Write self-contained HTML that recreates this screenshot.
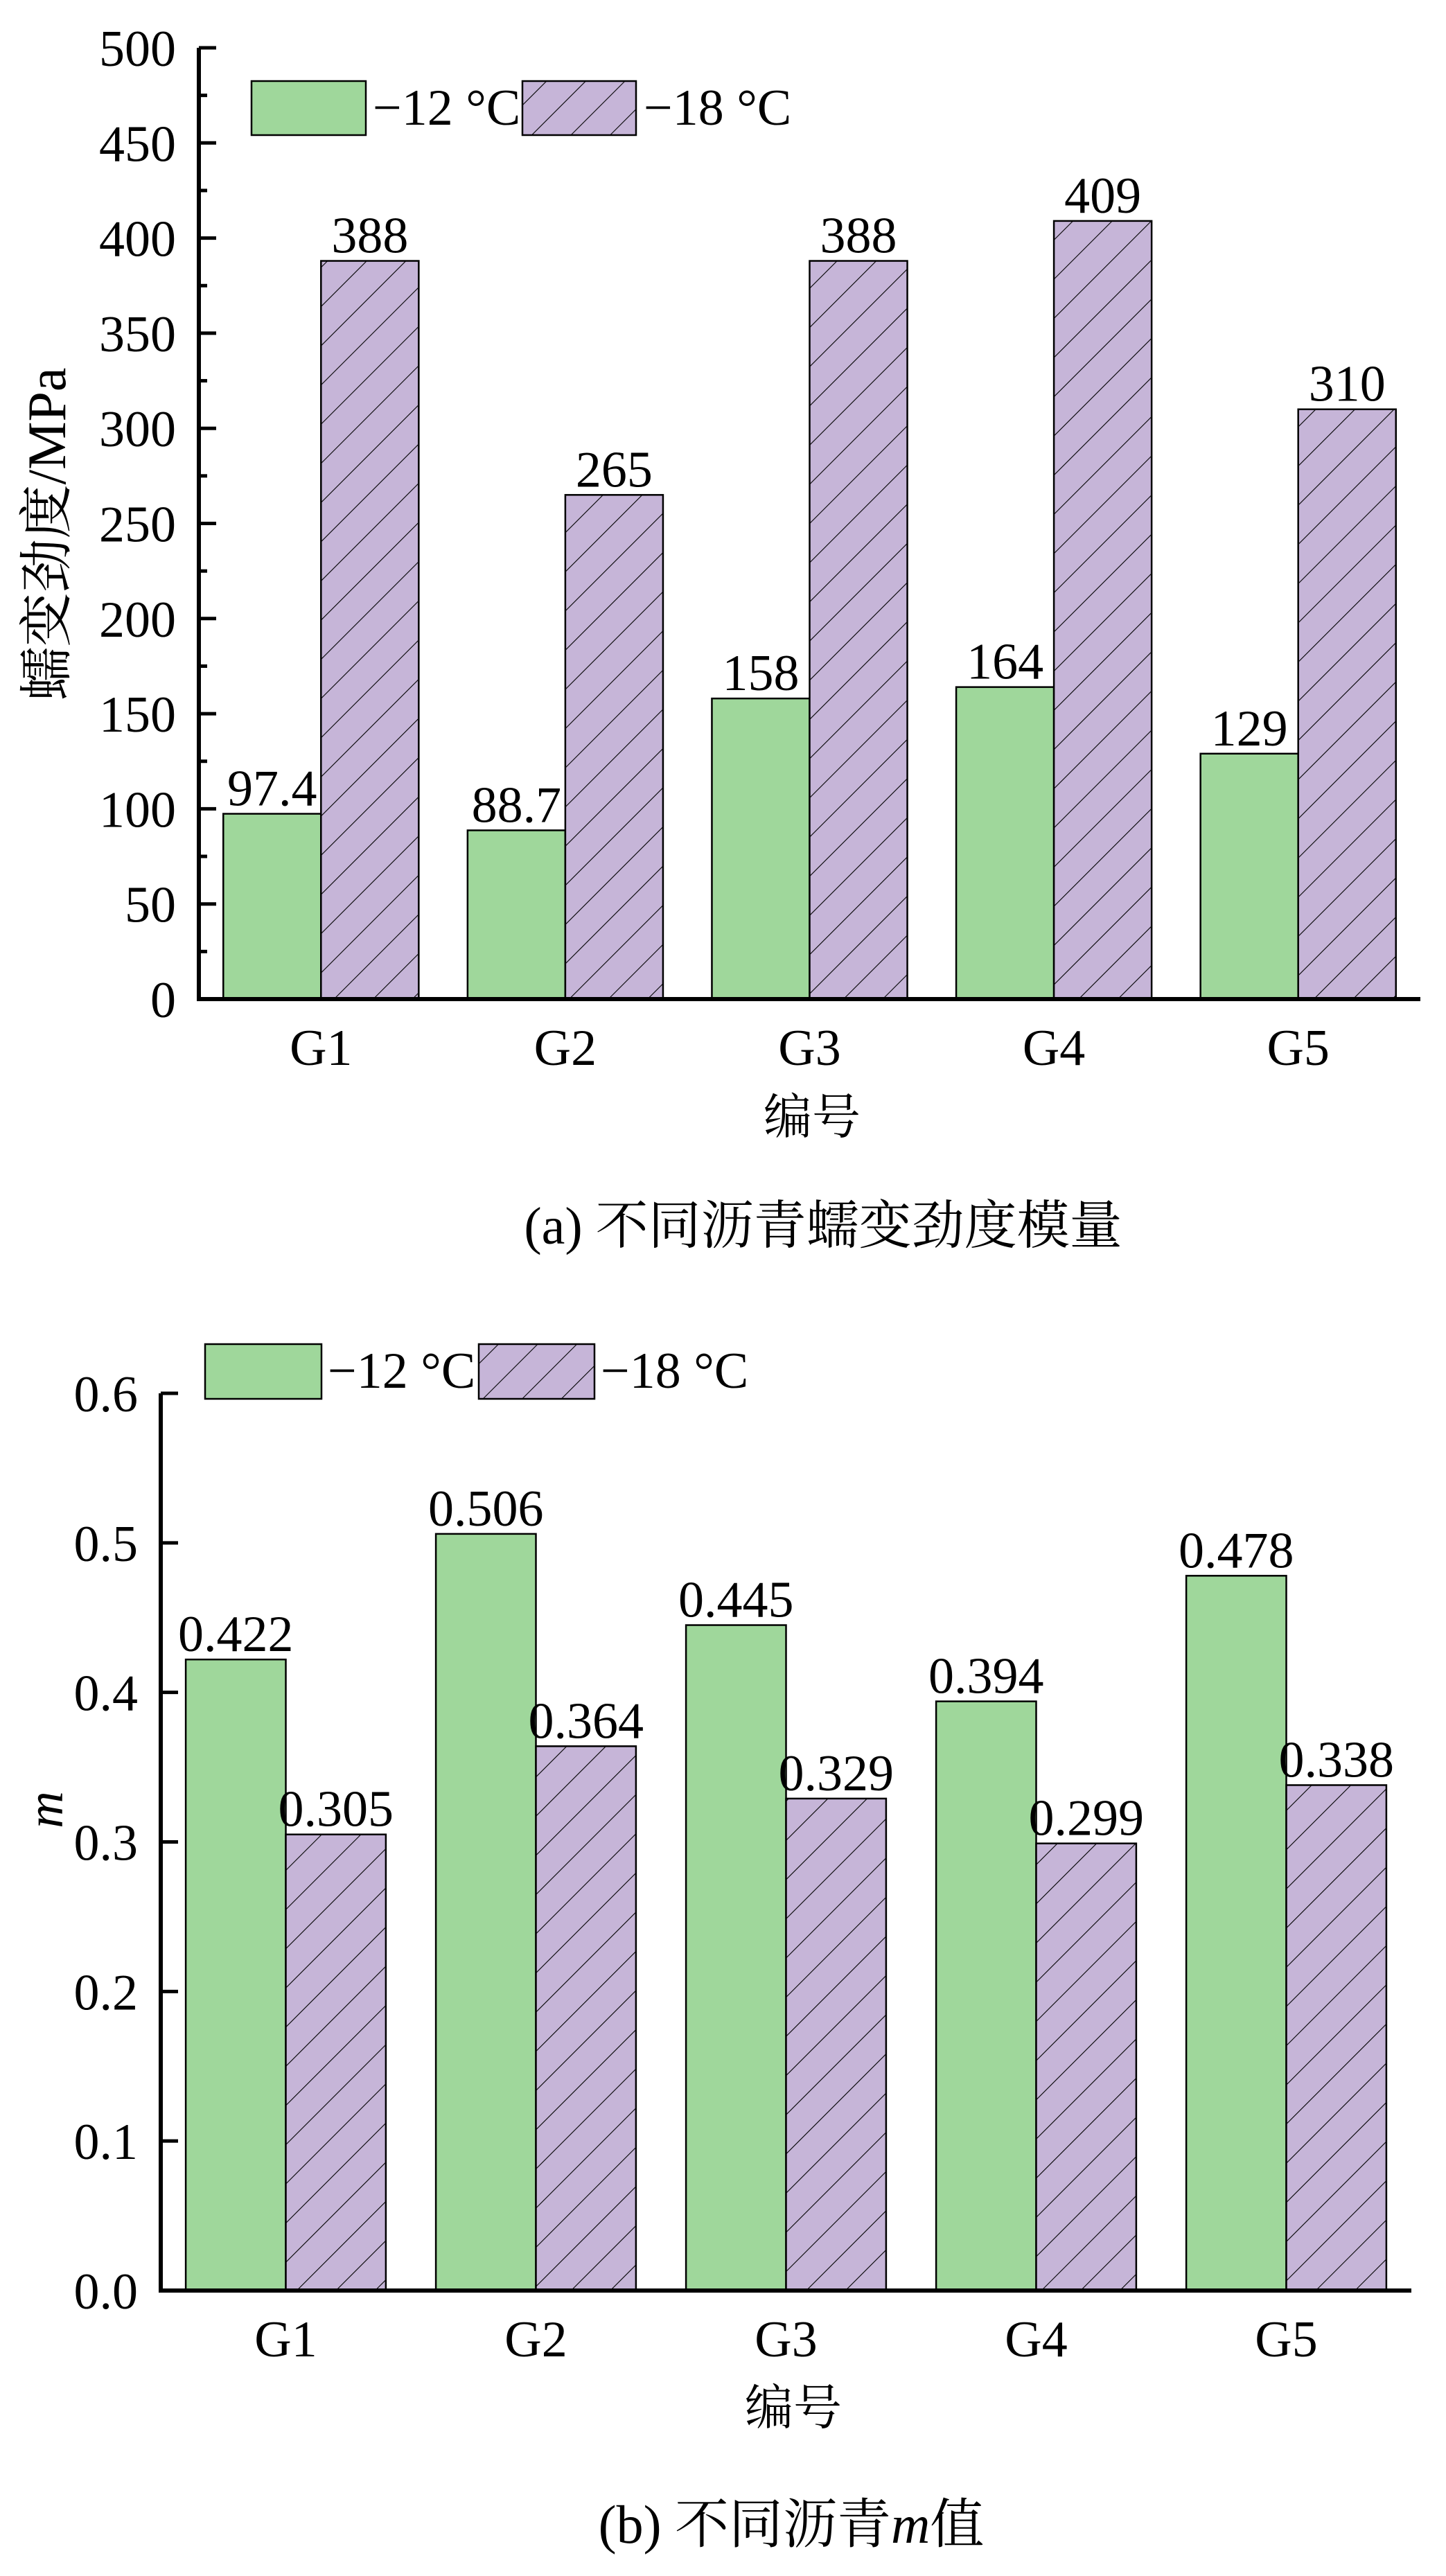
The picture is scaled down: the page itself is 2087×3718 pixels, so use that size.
<!DOCTYPE html>
<html><head><meta charset="utf-8"><style>
html,body{margin:0;padding:0;background:#fff}
svg{display:block}
text{font-family:"Liberation Serif","Noto Serif CJK SC","Noto Sans CJK SC",serif;fill:#000}
</style></head><body>
<svg id="svg" width="2087" height="3718" viewBox="0 0 2087 3718" xmlns="http://www.w3.org/2000/svg">
<defs>
<pattern id="hatch" patternUnits="userSpaceOnUse" width="40" height="40" patternTransform="rotate(45)">
<rect width="40" height="40" fill="#c6b5d8"/>
<line x1="0" y1="0" x2="0" y2="40" stroke="#000" stroke-width="2.2"/>
</pattern>
</defs>
<g id="chartA"></g>
<g id="chartB"></g>
</svg>
<script>
const categories = ["G1","G2","G3","G4","G5"];
const stiffnessMinus12 = [97.4, 88.7, 158, 164, 129];
const stiffnessMinus18 = [388, 265, 388, 409, 310];
const stiffnessLabels12 = ["97.4","88.7","158","164","129"];
const stiffnessLabels18 = ["388","265","388","409","310"];
const stiffnessTicks = [0,50,100,150,200,250,300,350,400,450,500];
const mMinus12 = [0.422, 0.506, 0.445, 0.394, 0.478];
const mMinus18 = [0.305, 0.364, 0.329, 0.299, 0.338];
const mLabels12 = ["0.422","0.506","0.445","0.394","0.478"];
const mLabels18 = ["0.305","0.364","0.329","0.299","0.338"];
const mTicks = ["0.0","0.1","0.2","0.3","0.4","0.5","0.6"];

const NS="http://www.w3.org/2000/svg";
function mk(parent, tag, attrs, txt){
  const e=document.createElementNS(NS,tag);
  for(const k in attrs) e.setAttribute(k,attrs[k]);
  if(txt!==undefined) e.textContent=txt;
  parent.appendChild(e); return e;
}

function drawChart(g, cfg){
  const {x0,x1,y0,yTop,vmin,vmax,ticks,tickVals,minor,s12,s18,l12,l18,prefix} = cfg;
  const yS = v => y0 - (v-vmin)/(vmax-vmin)*(y0-yTop);
  const band=(x1-x0)/categories.length, bw=band*0.4;
  categories.forEach((c,i)=>{
    const cx=x0+band*(i+0.5);
    let b=mk(g,'rect',{x:cx-bw,y:yS(s12[i]),width:bw,height:y0-yS(s12[i]),fill:'#9fd79b',stroke:'#000','stroke-width':2.5});
    
    
    b=mk(g,'rect',{x:cx,y:yS(s18[i]),width:bw,height:y0-yS(s18[i]),fill:'url(#hatch)',stroke:'#000','stroke-width':2.5});
    
    
    let t=mk(g,'text',{x:cx-bw/2,y:yS(s12[i])-12,'font-size':74,'text-anchor':'middle'},l12[i]);
    
    
    t=mk(g,'text',{x:cx+bw/2,y:yS(s18[i])-12,'font-size':74,'text-anchor':'middle'},l18[i]);
    
    
    t=mk(g,'text',{x:cx,y:y0+95,'font-size':74,'text-anchor':'middle'},c);
    
    
  });
  let a=mk(g,'line',{x1:x0,y1:y0,x2:x1,y2:y0,stroke:'#000','stroke-width':6});
  
  
  a=mk(g,'line',{x1:x0,y1:y0+3,x2:x0,y2:yTop,stroke:'#000','stroke-width':6});
  
  
  ticks.forEach((lab,i)=>{
    const v=tickVals[i], y=yS(v);
    mk(g,'line',{x1:x0,y1:y,x2:x0+25,y2:y,stroke:'#000','stroke-width':5});
    const t=mk(g,'text',{x:x0-33,y:y+26,'font-size':74,'text-anchor':'end'},lab);
    
    
    if(minor && i<ticks.length-1){
      const ym=yS(v+(tickVals[1]-tickVals[0])/2);
      mk(g,'line',{x1:x0,y1:ym,x2:x0+12,y2:ym,stroke:'#000','stroke-width':5});
    }
  });
}

const gA=document.getElementById('chartA');
drawChart(gA,{x0:287,x1:2050,y0:1442,yTop:69,vmin:0,vmax:500,ticks:stiffnessTicks.map(String),tickVals:stiffnessTicks,minor:true,
  s12:stiffnessMinus12,s18:stiffnessMinus18,l12:stiffnessLabels12,l18:stiffnessLabels18,prefix:'a'});
const gB=document.getElementById('chartB');
drawChart(gB,{x0:232,x1:2037,y0:3306,yTop:2011,vmin:0,vmax:0.6,ticks:mTicks,tickVals:mTicks.map(Number),minor:false,
  s12:mMinus12,s18:mMinus18,l12:mLabels12,l18:mLabels18,prefix:'b'});
</script>
<svg style="position:absolute;left:0;top:0" width="2087" height="3718">
<rect x="363" y="117" width="165" height="78" fill="#9fd79b" stroke="#000" stroke-width="2.5"/>
<text x="538" y="180" font-size="74">−12 °C</text>
<rect x="754" y="117" width="164" height="78" fill="url(#hatch)" stroke="#000" stroke-width="2.5"/>
<text x="929" y="180" font-size="74">−18 °C</text>
<text transform="translate(94,771) rotate(-90)" text-anchor="middle" font-size="78">蠕变劲度/MPa</text>
<text x="1172" y="1636" text-anchor="middle" font-size="70">编号</text>
<text x="1188" y="1795" text-anchor="middle" font-size="76">(a) 不同沥青蠕变劲度模量</text>
<rect x="296" y="1940" width="168" height="79" fill="#9fd79b" stroke="#000" stroke-width="2.5"/>
<text x="473" y="2003" font-size="74">−12 °C</text>
<rect x="691" y="1940" width="167" height="79" fill="url(#hatch)" stroke="#000" stroke-width="2.5"/>
<text x="867" y="2003" font-size="74">−18 °C</text>
<text transform="translate(90,2612) rotate(-90)" text-anchor="middle" font-size="74" font-style="italic">m</text>
<text x="1145" y="3499" text-anchor="middle" font-size="70">编号</text>
<text x="1142" y="3670" text-anchor="middle" font-size="78">(b) 不同沥青<tspan font-style="italic">m</tspan>值</text>
</svg>
</body></html>
